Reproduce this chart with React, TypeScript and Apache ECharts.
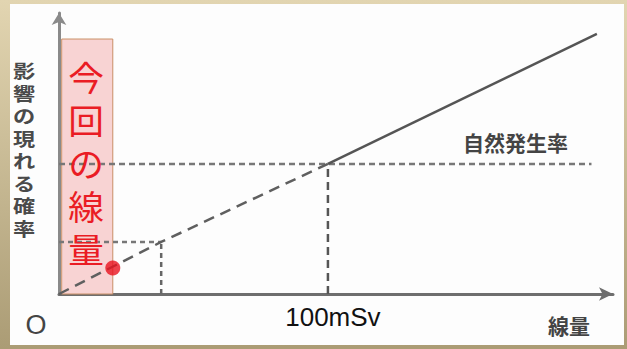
import React, { useEffect, useRef } from "react";
import * as echarts from "echarts";

// dose (mSv-like units) vs probability of effect (relative units)
const dashedLine: [number, number][] = [[0, 0], [38, 0.4], [100, 1]];
const solidLine: [number, number][] = [[100, 1], [200, 2]];
const naturalRate: [number, number][] = [[0, 1], [198, 1]];
const smallDoseLevel: [number, number][] = [[0, 0.4], [38, 0.4]];
const dose100Drop: [number, number][] = [[100, 0], [100, 1]];
const smallDoseDrop: [number, number][] = [[38, 0], [38, 0.4]];
const currentDose: [number, number][] = [[20, 0.2]];
const currentDoseBand: [number, number][] = [[1, 0], [20, 1.96]];
const xTickValues = [100];
const xTickLabels = ["100mSv"];

const yAxisName = "影響の現れる確率";
const xAxisName = "線量";
const originLabel = "O";
const naturalLabel = "自然発生率";
const currentLabel = "今回の線量";

const vert = (s: string) => s.split("").join("\n");

export default function App() {
  const ref = useRef<HTMLDivElement>(null);
  useEffect(() => {
    if (!ref.current) return;
    const chart = echarts.init(ref.current, null, { renderer: "svg" });
    const lineBase = { type: "line", showSymbol: false, silent: true, z: 3 };
    chart.setOption({
      animation: false,
      backgroundColor: {
        type: "linear", x: 0, y: 0, x2: 0, y2: 1,
        colorStops: [
          { offset: 0, color: "#e2d5b1" },
          { offset: 1, color: "#ab9c75" },
        ],
      },
      grid: { left: 59, right: 14, top: 13, bottom: 55 },
      xAxis: {
        type: "value", min: 0, max: 206,
        splitLine: { show: false },
        axisTick: { show: false },
        axisLine: {
          lineStyle: { color: "#6e6e6e", width: 3 },
          symbol: ["none", "arrow"], symbolSize: [10, 14],
        },
        axisLabel: {
          customValues: xTickValues,
          formatter: (v: number) => xTickLabels[xTickValues.indexOf(v)] ?? "",
          color: "#111", fontSize: 26, margin: 10,
          padding: [0, 0, 0, 10],
          fontFamily: "Liberation Sans, Arial, sans-serif",
        },
      },
      yAxis: {
        type: "value", min: 0, max: 2.16,
        splitLine: { show: false },
        axisTick: { show: false },
        axisLabel: { show: false },
        axisLine: {
          lineStyle: { color: "#8a8a8a", width: 3 },
          symbol: ["none", "arrow"], symbolSize: [11, 12],
        },
      },
      graphic: [
        { type: "rect", z: -10, shape: { x: 10, y: 4, width: 614, height: 341 }, style: { fill: "#fdfdfd" } },
        {
          type: "text", x: 24, y: 59, z: 10, scaleX: 1.2,
          style: {
            text: vert(yAxisName), fill: "#4a4a4a", fontSize: 18.5, lineHeight: 22.5,
            fontWeight: "bold", fontFamily: "Noto Sans CJK JP", align: "center", verticalAlign: "top",
          },
        },
        {
          type: "text", x: 86, y: 55, z: 10, scaleX: 1.05,
          style: {
            text: vert(currentLabel), fill: "#ea1c24", fontSize: 34, lineHeight: 43,
            fontFamily: "Noto Sans CJK JP", align: "center", verticalAlign: "top",
          },
        },
        {
          type: "text", x: 463, y: 142, z: 10,
          style: {
            text: naturalLabel, fill: "#444", fontSize: 21, fontWeight: "bold",
            fontFamily: "Noto Sans CJK JP", align: "left", verticalAlign: "middle",
          },
        },
        {
          type: "text", x: 548, y: 325, z: 10,
          style: {
            text: xAxisName, fill: "#444", fontSize: 21, fontWeight: "bold",
            fontFamily: "Noto Sans CJK JP", align: "left", verticalAlign: "middle",
          },
        },
        {
          type: "text", x: 36, y: 325, z: 10,
          style: {
            text: originLabel, fill: "#444", fontSize: 27,
            fontFamily: "Liberation Sans, Arial, sans-serif", align: "center", verticalAlign: "middle",
          },
        },
      ],
      series: [
        {
          type: "line", data: [], silent: true, z: 1,
          markArea: {
            silent: true,
            itemStyle: { color: "#f8d3d3", borderColor: "#c98f66", borderWidth: 1 },
            data: [[{ coord: currentDoseBand[0] }, { coord: currentDoseBand[1] }]],
          },
        },
        { ...lineBase, data: naturalRate, lineStyle: { color: "#777", width: 2.5, type: [6, 4] } },
        { ...lineBase, data: smallDoseLevel, lineStyle: { color: "#777", width: 2.5, type: [5, 4] } },
        { ...lineBase, data: dose100Drop, lineStyle: { color: "#555", width: 2.5, type: [8, 5] } },
        { ...lineBase, data: smallDoseDrop, lineStyle: { color: "#666", width: 2.5, type: [5, 4] } },
        { ...lineBase, data: dashedLine, lineStyle: { color: "#5f5f5f", width: 2.5, type: [11, 7] } },
        { ...lineBase, data: solidLine, lineStyle: { color: "#555", width: 2.5 } },
        {
          type: "scatter", data: currentDose, symbolSize: 15, z: 5, silent: true,
          itemStyle: { color: "#e8131f" },
        },
      ],
    });
    return () => chart.dispose();
  }, []);
  return (
    <div
      ref={ref}
      style={{ position: "fixed", left: 0, top: 0, width: 627, height: 349 }}
    />
  );
}
